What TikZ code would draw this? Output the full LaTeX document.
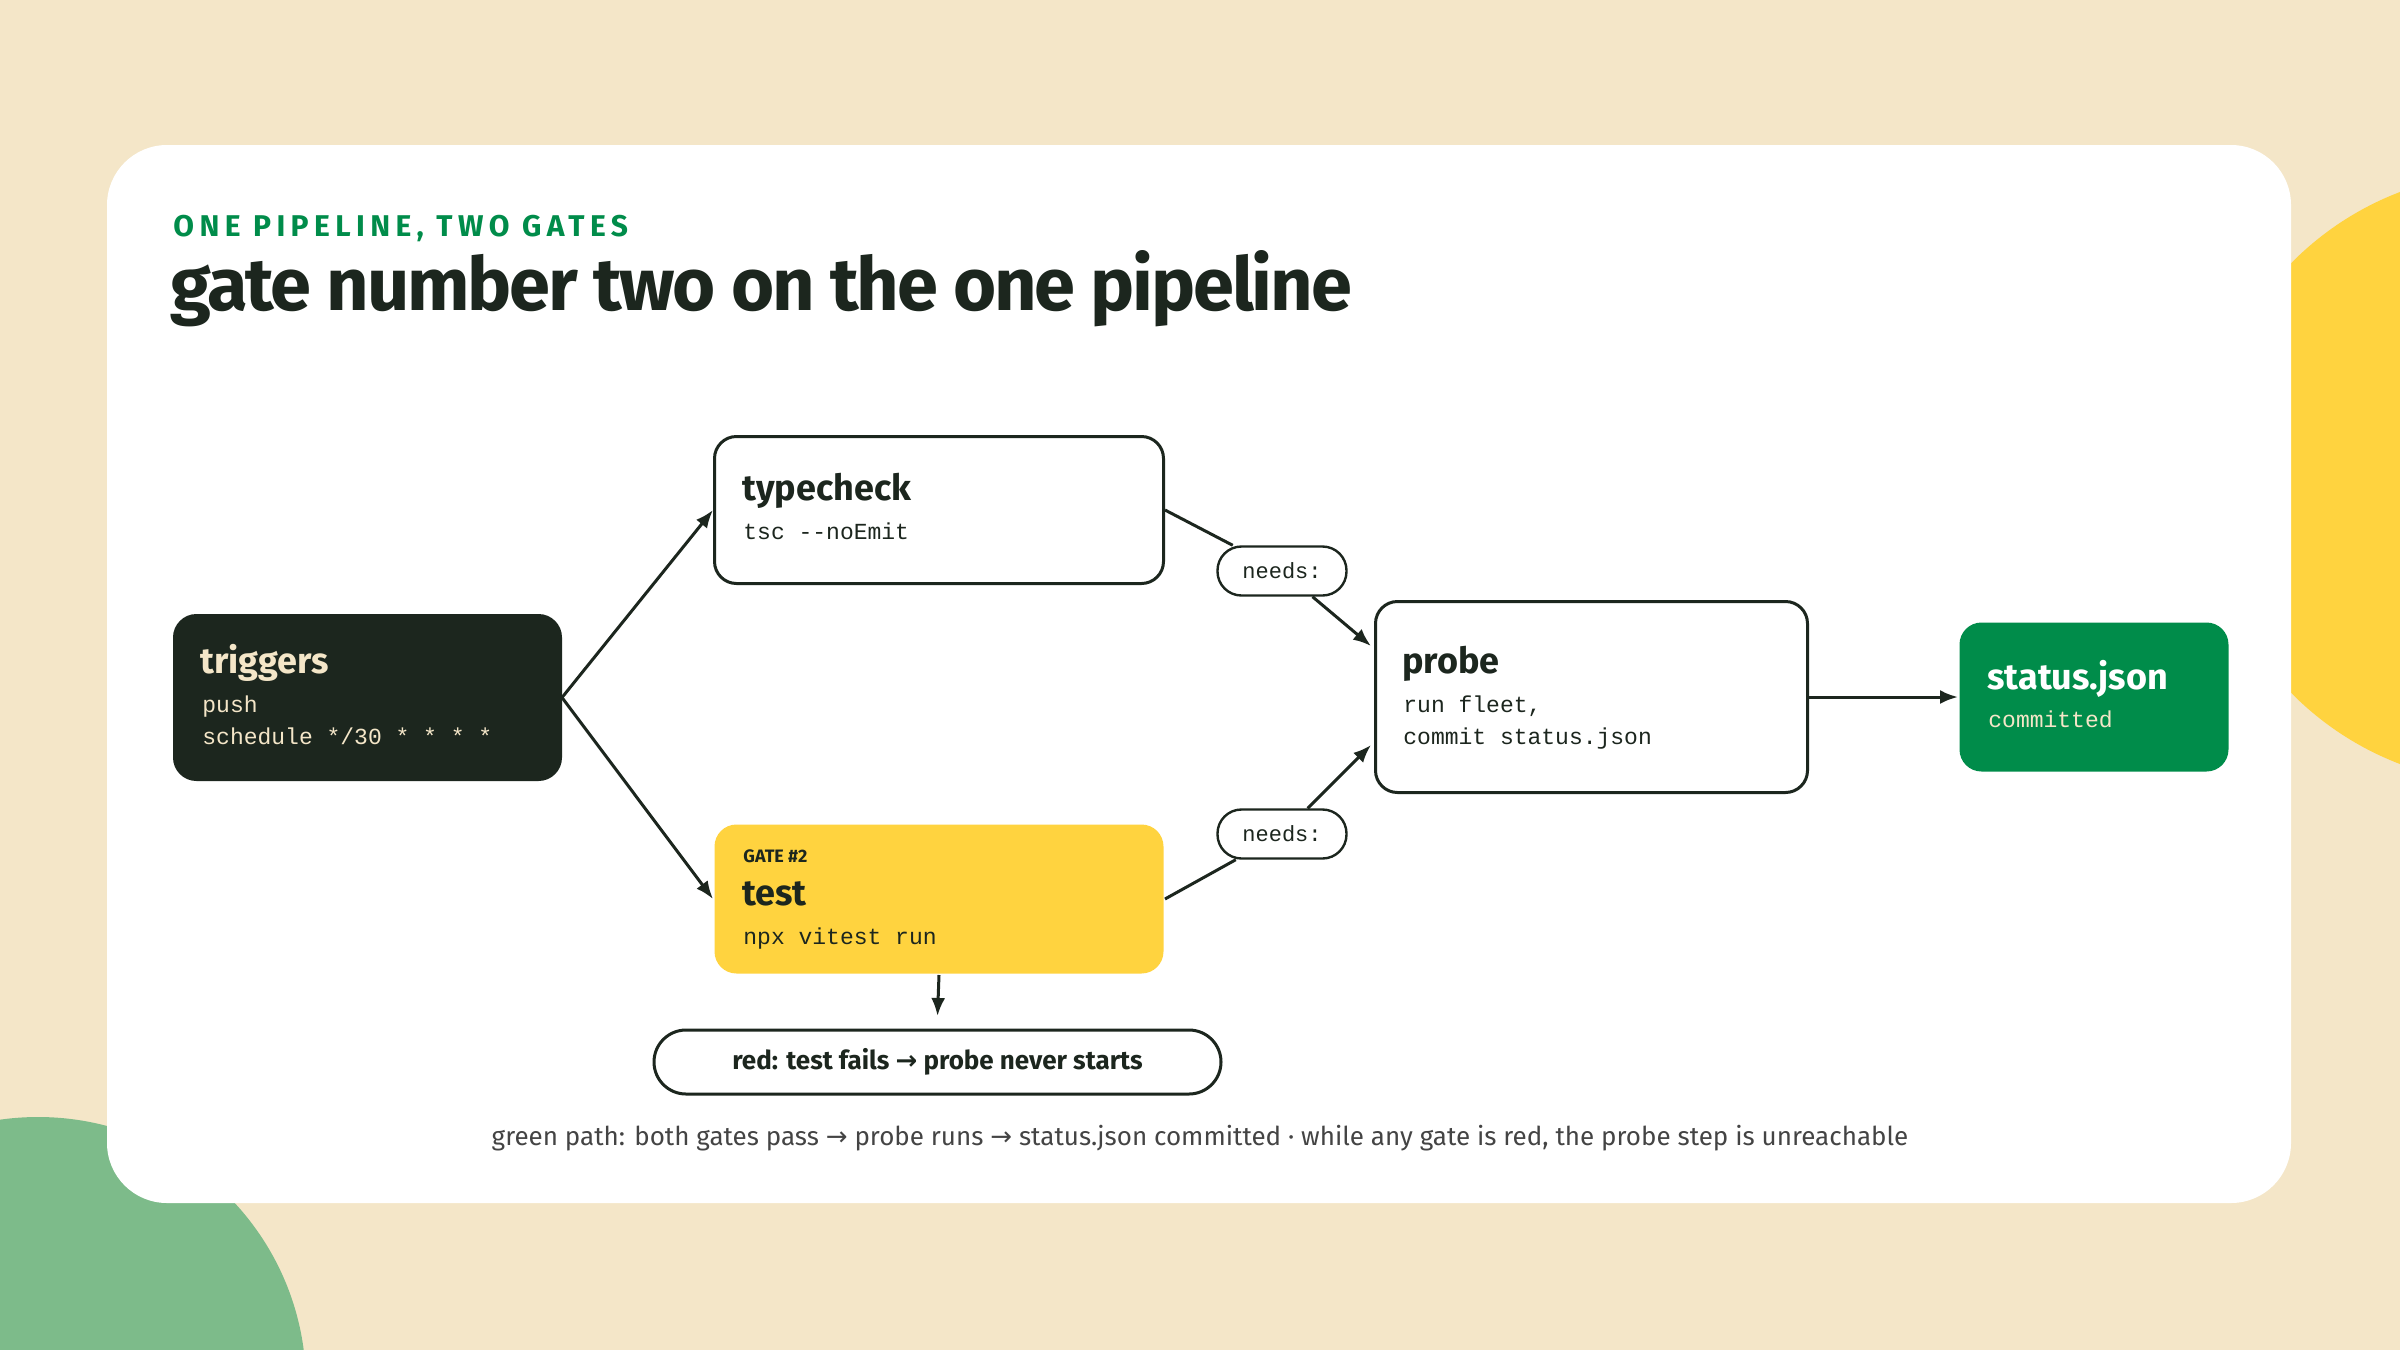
\documentclass[tikz,border=0pt]{standalone}
\usepackage{fontspec}
\setmainfont{Fira Sans}
\setmonofont{Liberation Mono}
\newfontfamily\djv{DejaVu Sans}
\usetikzlibrary{arrows.meta}
\definecolor{bg}{HTML}{F4E6C8}
\definecolor{ylw}{HTML}{FFD33F}
\definecolor{grn}{HTML}{008C4A}
\definecolor{drk}{HTML}{1C261E}
\definecolor{lgrn}{HTML}{7DBB8A}
\definecolor{gry}{HTML}{444444}
\newcommand{\arw}{{\djv\char"2192}}
\begin{document}
\begin{tikzpicture}[x=0.5pt,y=-0.5pt,
  box/.style={draw=drk,line width=1.5pt,rounded corners=11pt,anchor=north west,inner sep=0pt,fill=white},
  ttl/.style={anchor=base west,inner sep=0pt,font=\bfseries\fontsize{18}{20}\selectfont,text=drk},
  mono/.style={anchor=base west,inner sep=0pt,font=\ttfamily\fontsize{11.5}{13}\selectfont,text=drk},
  pill/.style={draw=drk,line width=1.2pt,rounded corners=12pt,fill=white,inner sep=0pt,font=\ttfamily\fontsize{11}{12}\selectfont,text=drk},
  ln/.style={draw=drk,line width=1.5pt},
  arr/.style={ln,-{Latex[length=9pt,width=7pt]}}]
\fill[bg] (0,0) rectangle (2400,1350);
\useasboundingbox (0,0) rectangle (2400,1350);
\fill[ylw] (2509,478) circle[radius=153pt];
\fill[lgrn] (38,1385) circle[radius=134pt];
\fill[white,rounded corners=30pt] (107,145) rectangle (2291,1203);
\node[anchor=base west,inner sep=0pt,text=grn,font=\bfseries\fontsize{15}{16}\selectfont] (eyebrow) at (173,236) {\addfontfeature{LetterSpace=18}ONE PIPELINE, TWO GATES};
\node[anchor=base west,inner sep=0pt,text=drk,font=\bfseries\fontsize{37}{40}\selectfont] (title) at (170,310) {\addfontfeature{LetterSpace=-3}gate number two on the one pipeline};
% boxes
\node[box,fill=drk,minimum width=193pt,minimum height=82pt] (trig) at (173,614) {};
\node[ttl,text=bg] (trigT) at (200,673) {triggers};
\node[mono,text=bg] (trig1) at (202,712) {push};
\node[mono,text=bg] (trig2) at (202,744) {schedule */30 * * * *};
\node[box,minimum width=224.5pt,minimum height=73.5pt] (tc) at (713,435) {};
\node[ttl] (tcT) at (742,500) {typecheck};
\node[mono] (tc1) at (743,539) {tsc --noEmit};
\node[box,draw=none,fill=ylw,minimum width=224.5pt,minimum height=74.5pt] (ts) at (713,823) {};
\node[anchor=base west,inner sep=0pt,font=\bfseries\fontsize{9}{10}\selectfont,text=drk] (tsG) at (743,862) {GATE \#2};
\node[ttl] (tsT) at (742,905) {test};
\node[mono] (ts1) at (743,944) {npx vitest run};
\node[box,minimum width=216pt,minimum height=95.5pt] (pr) at (1374,600) {};
\node[ttl] (prT) at (1402,673) {probe};
\node[mono] (pr1) at (1403,712) {run fleet,};
\node[mono] (pr2) at (1403,744) {commit status.json};
\node[box,draw=none,fill=grn,minimum width=134.5pt,minimum height=74.5pt] (st) at (1958,621) {};
\node[ttl,text=white] (stT) at (1987,689) {status.json};
\node[mono,text=bg] (st1) at (1988,727) {committed};
\node[pill,minimum width=64.5pt,minimum height=24.5pt] (n1) at (1282,571) {needs:};
\node[pill,minimum width=64.5pt,minimum height=24.5pt] (n2) at (1282,834) {needs:};
\node[draw=drk,line width=1.5pt,rounded corners=16pt,fill=white,minimum width=283.5pt,minimum height=32pt,inner sep=0pt,font=\bfseries\fontsize{13}{14}\selectfont,text=drk] (red) at (937.5,1062) {red: test fails \arw{} probe never starts};
\node[anchor=base,inner sep=0pt,text=gry,font=\fontsize{13}{14}\selectfont] (foot) at (1200,1145) {green path: both gates pass \arw{} probe runs \arw{} status.json committed · while any gate is red, the probe step is unreachable};
% connectors
\coordinate (p1) at (1371,646);
\coordinate (p2) at (1371,745);
\coordinate (tb) at (937.5,1016);
\draw[arr] (trig.east) -- (tc.west);
\draw[arr] (trig.east) -- (ts.west);
\draw[ln] (tc.east) -- (n1);
\draw[arr] (n1) -- (p1);
\draw[ln] (ts.east) -- (n2);
\draw[arr] (n2) -- (p2);
\draw[arr] (pr.east) -- (st.west);
\draw[arr] (ts.south) -- (tb);
\end{tikzpicture}
\end{document}
